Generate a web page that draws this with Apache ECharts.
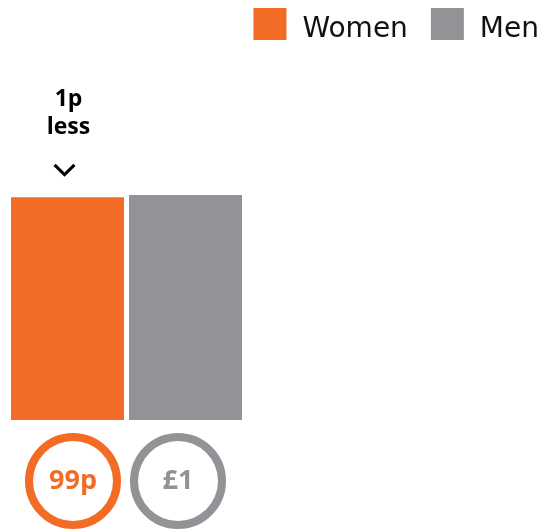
<!DOCTYPE html>
<html>
<head>
<meta charset="utf-8">
<script src="https://cdn.jsdelivr.net/npm/echarts@6/dist/echarts.min.js"></script>
<style>
  html, body { margin: 0; padding: 0; background: #fff; }
  #chart { width: 541px; height: 531px; }
</style>
</head>
<body>
<div id="chart"></div>
<script>
// data
var categories = ['Women', 'Men'];
var women = [0.99, '-'];
var men = ['-', 1];
var circleLabels = ['99p', '£1'];
var gapNote = '1p\nless';

var orange = '#f36c26';
var grey = '#929396';

function circleLabel(color, text, dx) {
  return {
    show: true,
    position: 'bottom',
    distance: 61,
    offset: [dx, 0],
    formatter: function () { return text; },
    width: 80,
    height: 80,
    lineHeight: 80,
    align: 'center',
    verticalAlign: 'middle',
    backgroundColor: '#fff',
    borderColor: color,
    borderWidth: 8,
    borderRadius: 48,
    color: color,
    fontFamily: 'Open Sans',
    fontWeight: 'bold',
    fontSize: 27
  };
}

var myChart = echarts.init(document.getElementById('chart'));
var option = {
  animation: false,
  color: [orange, grey],
  legend: {
    data: ['Women', 'Men'],
    right: -3,
    top: 3,
    icon: 'rect',
    itemWidth: 33,
    itemHeight: 32,
    itemGap: 23,
    selectedMode: false,
    formatter: '{t|{name}}',
    textStyle: {
      padding: [0, 0, 0, 11],
      rich: {
        t: {
          fontFamily: 'DejaVu Sans',
          fontSize: 28,
          color: '#111',
          padding: [12, 0, 0, 0]
        }
      }
    }
  },
  grid: {
    left: 8.5,
    width: 236,
    top: 195,
    bottom: 111
  },
  xAxis: {
    type: 'category',
    data: categories,
    show: false
  },
  yAxis: {
    type: 'value',
    min: 0,
    max: 1,
    show: false
  },
  series: [
    {
      name: 'Women',
      type: 'bar',
      stack: 'pay',
      barWidth: 113,
      data: women,
      label: circleLabel(orange, circleLabels[0], 5.5),
      markPoint: {
        symbol: 'path://M0,2 L2,0 L10,8 L18,0 L20,2 L10,12 Z',
        symbolSize: [22, 13],
        symbolOffset: [-3, -27],
        itemStyle: { color: '#000' },
        label: {
          show: true,
          position: 'top',
          distance: 22,
          offset: [4, 0],
          formatter: gapNote,
          color: '#000',
          fontFamily: 'Open Sans',
          fontWeight: 'bold',
          fontSize: 23,
          lineHeight: 28
        },
        data: [{ coord: ['Women', 0.99] }]
      }
    },
    {
      name: 'Men',
      type: 'bar',
      stack: 'pay',
      barWidth: 113,
      data: men,
      label: circleLabel(grey, circleLabels[1], -7.5)
    }
  ]
};
myChart.setOption(option);
</script>
</body>
</html>
